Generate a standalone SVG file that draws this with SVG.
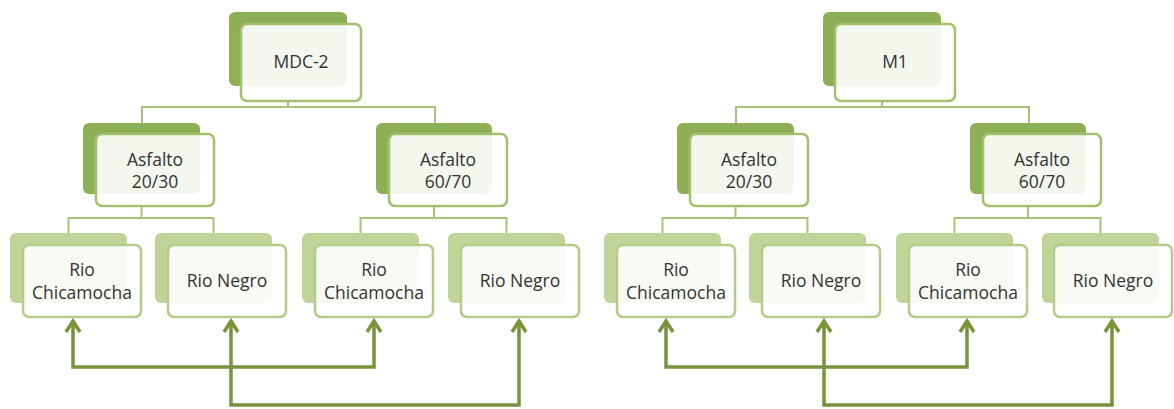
<svg xmlns="http://www.w3.org/2000/svg" width="1174" height="409" viewBox="0 0 1174 409">
<style>
.bk1{fill:#8db056}
.bk2{fill:#c0d49a}
.fr1{fill:#ffffff;fill-opacity:0.9;stroke:#a3c06e;stroke-width:2.5}
.fr2{fill:#ffffff;fill-opacity:0.88;stroke:#b4cc8a;stroke-width:2.5}
.t{font-family:"Open Sans","Liberation Sans",sans-serif;font-size:17.5px;fill:#333333;text-anchor:middle}
.tree{fill:none;stroke:#a8c378;stroke-width:2}
.arr{fill:none;stroke:#77933c;stroke-width:3.5;stroke-linejoin:miter}
</style>
<defs>
<marker id="ah" markerUnits="userSpaceOnUse" markerWidth="20" markerHeight="20" refX="0" refY="0" orient="auto-start-reverse" overflow="visible">
<path d="M-11,-7 L0,0 L-11,7" fill="none" stroke="#77933c" stroke-width="3.5"/>
</marker>
</defs>
<g id="connectors">
<path class="tree" d="M288,101 V107 M142,123 V107 H435 V123"/>
<path class="tree" d="M141.5,206 V218 M68.5,233 V218 H213.5 V233"/>
<path class="tree" d="M434,206 V218 M360.5,233 V218 H506.5 V233"/>
<path class="tree" d="M882,101 V107 M736,123 V107 H1029 V123"/>
<path class="tree" d="M735.5,206 V218 M662.5,233 V218 H807.5 V233"/>
<path class="tree" d="M1028,206 V218 M954.5,233 V218 H1100.5 V233"/>
<path class="arr" d="M73,321 V367 H374 V321" marker-start="url(#ah)" marker-end="url(#ah)"/>
<path class="arr" d="M231,321 V405 H519 V321" marker-start="url(#ah)" marker-end="url(#ah)"/>
<path class="arr" d="M666,321 V367 H967 V321" marker-start="url(#ah)" marker-end="url(#ah)"/>
<path class="arr" d="M824,321 V405 H1112 V321" marker-start="url(#ah)" marker-end="url(#ah)"/>
</g>
<g id="mdc2">
<rect class="bk1" x="229" y="12" width="118" height="74" rx="6"/>
<rect class="fr1" x="241" y="24" width="120" height="77" rx="6"/>
<text class="t" x="301" y="68">MDC-2</text>
</g>
<g id="asf2030_a">
<rect class="bk1" x="83" y="123" width="117" height="71" rx="6"/>
<rect class="fr1" x="96" y="134" width="118" height="72" rx="6"/>
<text class="t" x="155" y="166">Asfalto</text>
<text class="t" x="155" y="188">20/30</text>
</g>
<g id="asf6070_a">
<rect class="bk1" x="376" y="123" width="116" height="71" rx="6"/>
<rect class="fr1" x="389" y="134" width="118" height="72" rx="6"/>
<text class="t" x="448" y="166">Asfalto</text>
<text class="t" x="448" y="188">60/70</text>
</g>
<g id="rio1_a">
<rect class="bk2" x="10" y="233" width="117" height="70" rx="6"/>
<rect class="fr2" x="23" y="245" width="118" height="72" rx="6"/>
<text class="t" x="82" y="276">Rio</text>
<text class="t" x="82" y="299">Chicamocha</text>
</g>
<g id="rio2_a">
<rect class="bk2" x="155" y="233" width="117" height="70" rx="6"/>
<rect class="fr2" x="168" y="245" width="118" height="72" rx="6"/>
<text class="t" x="227" y="287">Rio Negro</text>
</g>
<g id="rio3_a">
<rect class="bk2" x="302" y="233" width="117" height="70" rx="6"/>
<rect class="fr2" x="315" y="245" width="118" height="72" rx="6"/>
<text class="t" x="374" y="276">Rio</text>
<text class="t" x="374" y="299">Chicamocha</text>
</g>
<g id="rio4_a">
<rect class="bk2" x="448" y="233" width="117" height="70" rx="6"/>
<rect class="fr2" x="461" y="245" width="118" height="72" rx="6"/>
<text class="t" x="520" y="287">Rio Negro</text>
</g>
<g id="m1">
<rect class="bk1" x="823" y="12" width="118" height="74" rx="6"/>
<rect class="fr1" x="835" y="24" width="120" height="77" rx="6"/>
<text class="t" x="895" y="68">M1</text>
</g>
<g id="asf2030_b">
<rect class="bk1" x="677" y="123" width="117" height="71" rx="6"/>
<rect class="fr1" x="690" y="134" width="118" height="72" rx="6"/>
<text class="t" x="749" y="166">Asfalto</text>
<text class="t" x="749" y="188">20/30</text>
</g>
<g id="asf6070_b">
<rect class="bk1" x="970" y="123" width="116" height="71" rx="6"/>
<rect class="fr1" x="983" y="134" width="118" height="72" rx="6"/>
<text class="t" x="1042" y="166">Asfalto</text>
<text class="t" x="1042" y="188">60/70</text>
</g>
<g id="rio1_b">
<rect class="bk2" x="604" y="233" width="117" height="70" rx="6"/>
<rect class="fr2" x="617" y="245" width="118" height="72" rx="6"/>
<text class="t" x="676" y="276">Rio</text>
<text class="t" x="676" y="299">Chicamocha</text>
</g>
<g id="rio2_b">
<rect class="bk2" x="749" y="233" width="117" height="70" rx="6"/>
<rect class="fr2" x="762" y="245" width="118" height="72" rx="6"/>
<text class="t" x="821" y="287">Rio Negro</text>
</g>
<g id="rio3_b">
<rect class="bk2" x="896" y="233" width="117" height="70" rx="6"/>
<rect class="fr2" x="909" y="245" width="118" height="72" rx="6"/>
<text class="t" x="968" y="276">Rio</text>
<text class="t" x="968" y="299">Chicamocha</text>
</g>
<g id="rio4_b">
<rect class="bk2" x="1042" y="233" width="117" height="70" rx="6"/>
<rect class="fr2" x="1054" y="245" width="118" height="72" rx="6"/>
<text class="t" x="1113" y="287">Rio Negro</text>
</g>
</svg>
